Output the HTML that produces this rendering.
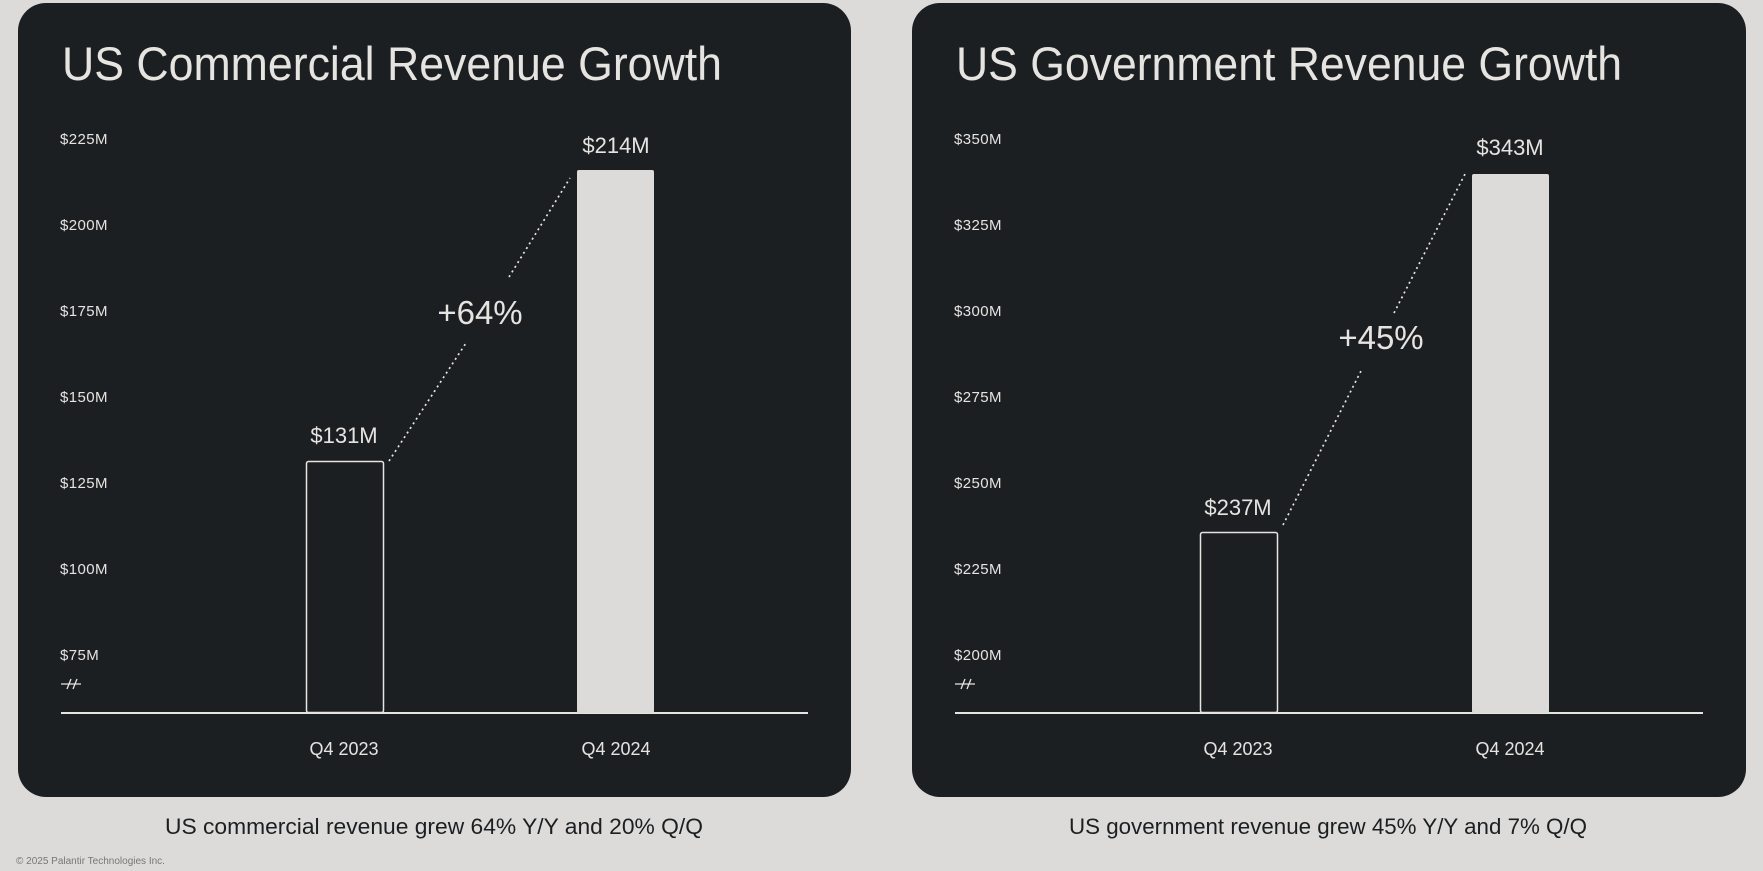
<!DOCTYPE html>
<html><head><meta charset="utf-8"><style>
html,body{margin:0;padding:0;background:#dcdbd9;}
svg{display:block;font-family:"Liberation Sans",sans-serif;}
</style></head><body>
<svg width="1763" height="871" viewBox="0 0 1763 871" xmlns="http://www.w3.org/2000/svg">
<rect width="1763" height="871" fill="#dcdbd9"/>
<!-- Panel 1 -->
<rect x="18" y="3" width="833" height="794" rx="28" fill="#1c1f22"/>
<text x="62" y="80" font-size="47" fill="#e6e4e1" textLength="660" lengthAdjust="spacingAndGlyphs">US Commercial Revenue Growth</text>
<g font-size="15" fill="#e6e4e1" letter-spacing="0.4">
<text x="60" y="144">$225M</text>
<text x="60" y="230">$200M</text>
<text x="60" y="316">$175M</text>
<text x="60" y="402">$150M</text>
<text x="60" y="488">$125M</text>
<text x="60" y="574">$100M</text>
<text x="60" y="660">$75M</text>
</g>
<g stroke="#e6e4e1" stroke-width="1.3" fill="none">
<path d="M61 684 H81 M67 689 L71 679 M73 689 L77 679"/>
</g>
<line x1="61" y1="713" x2="808" y2="713" stroke="#e6e4e1" stroke-width="2"/>
<rect x="306.5" y="461.5" width="77" height="251" rx="2" fill="none" stroke="#e6e4e1" stroke-width="1.5"/>
<rect x="577" y="170" width="77" height="543" rx="2" fill="#dcdbd9"/>
<g fill="#e6e4e1" text-anchor="middle">
<text x="344" y="443" font-size="22">$131M</text>
<text x="616" y="153" font-size="22">$214M</text>
<text x="480" y="324" font-size="33">+64%</text>
<text x="344" y="755" font-size="18">Q4 2023</text>
<text x="616" y="755" font-size="18">Q4 2024</text>
</g>
<g stroke="#e6e4e1" stroke-width="1.7" stroke-dasharray="2 3.5" fill="none">
<path d="M389 461 L466 343 M509 277 L570 178"/>
</g>
<!-- Panel 2 -->
<rect x="912" y="3" width="834" height="794" rx="28" fill="#1c1f22"/>
<text x="956" y="80" font-size="47" fill="#e6e4e1" textLength="666" lengthAdjust="spacingAndGlyphs">US Government Revenue Growth</text>
<g font-size="15" fill="#e6e4e1" letter-spacing="0.4">
<text x="954" y="144">$350M</text>
<text x="954" y="230">$325M</text>
<text x="954" y="316">$300M</text>
<text x="954" y="402">$275M</text>
<text x="954" y="488">$250M</text>
<text x="954" y="574">$225M</text>
<text x="954" y="660">$200M</text>
</g>
<g stroke="#e6e4e1" stroke-width="1.3" fill="none">
<path d="M955 684 H975 M961 689 L965 679 M967 689 L971 679"/>
</g>
<line x1="955" y1="713" x2="1703" y2="713" stroke="#e6e4e1" stroke-width="2"/>
<rect x="1200.5" y="532.5" width="77" height="180" rx="2" fill="none" stroke="#e6e4e1" stroke-width="1.5"/>
<rect x="1472" y="174" width="77" height="539" rx="2" fill="#dcdbd9"/>
<g fill="#e6e4e1" text-anchor="middle">
<text x="1238" y="515" font-size="22">$237M</text>
<text x="1510" y="155" font-size="22">$343M</text>
<text x="1381" y="349" font-size="33">+45%</text>
<text x="1238" y="755" font-size="18">Q4 2023</text>
<text x="1510" y="755" font-size="18">Q4 2024</text>
</g>
<g stroke="#e6e4e1" stroke-width="1.7" stroke-dasharray="2 3.5" fill="none">
<path d="M1283 525 L1362 369 M1394 313 L1465 174"/>
</g>
<!-- Captions -->
<g fill="#1c1f22" font-size="22" text-anchor="middle">
<text x="434" y="834" textLength="538" lengthAdjust="spacingAndGlyphs">US commercial revenue grew 64% Y/Y and 20% Q/Q</text>
<text x="1328" y="834" textLength="518" lengthAdjust="spacingAndGlyphs">US government revenue grew 45% Y/Y and 7% Q/Q</text>
</g>
<text x="16" y="864" font-size="10" fill="#777">© 2025 Palantir Technologies Inc.</text>
</svg>
</body></html>
